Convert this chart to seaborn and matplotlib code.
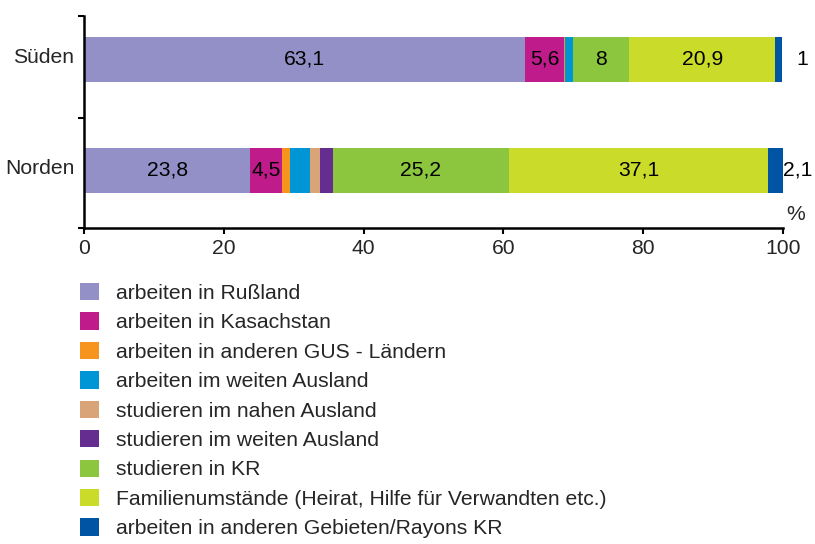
import numpy as np
import pandas as pd
import matplotlib
matplotlib.use("Agg")
import matplotlib.pyplot as plt
import matplotlib.transforms as mtransforms
from matplotlib.patches import Patch
import seaborn as sns

# Regions (top to bottom)
regions = ["Süden", "Norden"]

# Reasons for leaving, share in percent
reasons = [
    "arbeiten in Rußland",
    "arbeiten in Kasachstan",
    "arbeiten in anderen GUS - Ländern",
    "arbeiten im weiten Ausland",
    "studieren im nahen Ausland",
    "studieren im weiten Ausland",
    "studieren in KR",
    "Familienumstände (Heirat, Hilfe für Verwandten etc.)",
    "arbeiten in anderen Gebieten/Rayons KR",
]
sueden = [63.1, 5.6, 0.1, 1.2, 0.0, 0.0, 8.0, 20.9, 1.0]
norden = [23.8, 4.5, 1.2, 2.8, 1.4, 1.9, 25.2, 37.1, 2.1]

colors = ["#9390C7", "#BF1B8B", "#F7941D", "#0095D5", "#D8A478",
          "#662D91", "#8CC63F", "#CBDB2A", "#0054A4"]

# Which segments carry a value label inside the bar
labelled = ["arbeiten in Rußland", "arbeiten in Kasachstan",
            "studieren in KR", "Familienumstände (Heirat, Hilfe für Verwandten etc.)"]
outside = "arbeiten in anderen Gebieten/Rayons KR"

sns.set_theme(style="white")
plt.rcParams["font.family"] = ["Liberation Sans", "DejaVu Sans"]

df = pd.DataFrame({"Süden": sueden, "Norden": norden}, index=reasons)
cum = df.cumsum()

fig = plt.figure(figsize=(8.15, 5.44), dpi=100)
ax = fig.add_axes([84 / 815, 1 - 228 / 544, (783 - 84) / 815, (228 - 16) / 544])

# Stacked bars: draw cumulative totals from the largest down
for reason, color in reversed(list(zip(reasons, colors))):
    d = pd.DataFrame({"region": regions, "value": [cum.loc[reason, r] for r in regions]})
    sns.barplot(data=d, x="value", y="region", order=regions, color=color,
                width=0.405, saturation=1, linewidth=0, ax=ax)

fs = 15.2
for yi, r in enumerate(regions):
    for reason in reasons:
        v = df.loc[reason, r]
        end = cum.loc[reason, r]
        txt = f"{v:g}".replace(".", ",")
        if reason in labelled:
            ax.text(end - v / 2, yi, txt, ha="center", va="center", fontsize=fs, color="black")
        elif reason == outside:
            xpos = end + 2.0 if v < 1.5 else end
            ax.text(xpos, yi, txt, ha="left", va="center", fontsize=fs,
                    color="black", clip_on=False)

ax.set_xlim(0, 100)
ax.set_ylim(1.52, -0.39)
ax.set_xticks(np.arange(0, 101, 20))
ax.set_xticklabels([str(t) for t in range(0, 101, 20)], fontsize=fs)
ax.set_yticks([0, 1])
ax.set_yticklabels(regions, fontsize=fs)
ax.set_yticks([-0.39, 0.53, 1.52], minor=True)
ax.set_xlabel("")
ax.set_ylabel("")
ax.tick_params(axis="y", which="major", length=0, pad=7)
ax.tick_params(axis="y", which="minor", length=4, width=1.5, direction="out", color="black", left=True)
ax.tick_params(axis="x", which="major", length=4, width=1.5, direction="out", color="black",
               bottom=True, pad=4)
# category labels sit slightly above the bar centre
lift = mtransforms.ScaledTranslation(0, 4 / 100, fig.dpi_scale_trans)
for lab in ax.get_yticklabels():
    lab.set_transform(lab.get_transform() + lift)
for s in ["top", "right"]:
    ax.spines[s].set_visible(False)
for s in ["left", "bottom"]:
    ax.spines[s].set_color("black")
    ax.spines[s].set_linewidth(1.8)
ax.grid(False)

ax.text(1.005, 0.065, "%", transform=ax.transAxes, ha="left", va="center", fontsize=fs)

handles = [Patch(facecolor=c, edgecolor="none") for c in colors]
fig.legend(handles, reasons, loc="upper left", bbox_to_anchor=(80 / 815, 1 - 283 / 544),
           frameon=False, fontsize=fs, handlelength=0.92, handleheight=0.88,
           handletextpad=0.8, labelspacing=0.45, borderpad=0, borderaxespad=0)

fig.savefig("out.png", dpi=100)
